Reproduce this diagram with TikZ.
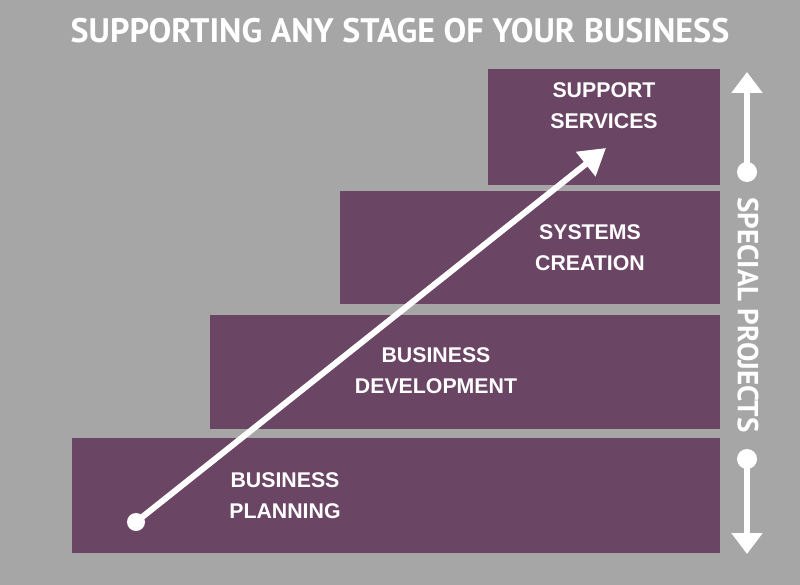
\documentclass[tikz,border=0pt]{standalone}
\usepackage{fontspec}
\setmainfont{Liberation Sans}
\newfontfamily\ptsans{PT Sans}
\usetikzlibrary{arrows.meta}
\definecolor{bg}{RGB}{166,166,166}
\definecolor{plum}{RGB}{107,69,100}
\tikzset{
  stagebox/.style={fill=plum, draw=none, inner sep=0pt, anchor=north west},
  stagelabel/.style={text=white, align=center, font=\bfseries\fontsize{21.3}{31}\selectfont},
  bigdot/.style={circle, fill=white, inner sep=0pt, minimum size=#1},
  whitearrow/.style={draw=white, line width=6pt, -{Triangle[length=26pt,width=30pt]}},
  siderow/.style={draw=white, line width=6pt, -{Triangle[length=21pt,width=30pt]}},
}
\begin{document}
\begin{tikzpicture}[x=1pt,y=-1pt]
\useasboundingbox (0,0) rectangle (800,585);
\fill[bg] (0,0) rectangle (800,585);
\node[text=white, font=\ptsans\bfseries\fontsize{34}{34}\selectfont] (title) at (400,31) {SUPPORTING ANY STAGE OF YOUR BUSINESS};
% boxes
\node[stagebox, minimum width=648pt, minimum height=115pt] (b1) at (72,438) {};
\node[stagebox, minimum width=510pt, minimum height=114pt] (b2) at (210,315) {};
\node[stagebox, minimum width=380pt, minimum height=113pt] (b3) at (340,191) {};
\node[stagebox, minimum width=232pt, minimum height=116pt] (b4) at (488,69) {};
% labels
\node[stagelabel] (l1) at (285,496) {BUSINESS\\PLANNING};
\node[stagelabel] (l2) at (436,371) {BUSINESS\\DEVELOPMENT};
\node[stagelabel] (l3) at (590,248) {SYSTEMS\\CREATION};
\node[stagelabel] (l4) at (604,106) {SUPPORT\\SERVICES};
% main arrow
\node[bigdot=18pt] (start) at (136,522) {};
\coordinate (tip) at (606,148);
\draw[whitearrow] (start.center) -- (tip);
% side arrows
\node[bigdot=20pt] (d1) at (747,172) {};
\node[bigdot=20pt] (d2) at (747,459) {};
\coordinate (up) at (747,72);
\coordinate (down) at (747,554);
\draw[siderow] (d1.center) -- (up);
\draw[siderow] (d2.center) -- (down);
\node[rotate=-90, text=white, font=\ptsans\bfseries\fontsize{29}{29}\selectfont] (sp) at (748,315) {SPECIAL PROJECTS};
\end{tikzpicture}
\end{document}
